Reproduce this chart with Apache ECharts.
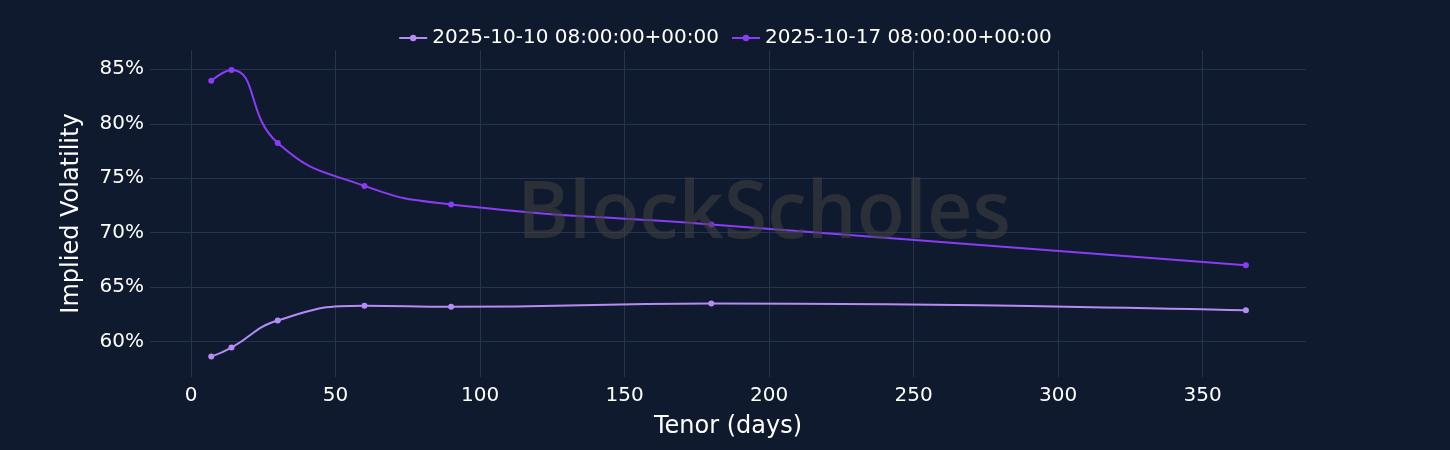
<!DOCTYPE html>
<html>
<head>
<meta charset="utf-8">
<script src="https://cdn.jsdelivr.net/npm/echarts@6/dist/echarts.min.js"></script>
<style>
html,body{margin:0;padding:0;background:#0f1a2e;}
#chart{width:1450px;height:450px;}
</style>
</head>
<body>
<div id="chart"></div>
<script>
const tenors = [7, 14, 30, 60, 90, 180, 365];
const seriesNames = ['2025-10-10 08:00:00+00:00', '2025-10-17 08:00:00+00:00'];
const vol1010 = [58.63, 59.46, 61.94, 63.3, 63.2, 63.5, 62.89];
const vol1017 = [83.95, 84.94, 78.24, 74.3, 72.6, 70.76, 67.02];
const xTitle = 'Tenor (days)';
const yTitle = 'Implied Volatility';
const watermark = 'BlockScholes';

const FONT = '"DejaVu Sans", Verdana, sans-serif';
const gridColor = '#243350';
const chart = echarts.init(document.getElementById('chart'), null, {renderer: 'canvas'});

function pairs(vals) { return tenors.map((t, i) => [t, vals[i]]); }

const xSplit = Array(10).fill(gridColor); xSplit[0] = 'rgba(0,0,0,0)'; xSplit[9] = 'rgba(0,0,0,0)';
const ySplit = Array(8).fill(gridColor); ySplit[0] = 'rgba(0,0,0,0)'; ySplit[7] = 'rgba(0,0,0,0)';

chart.setOption({
  backgroundColor: '#0f1a2e',
  animation: false,
  textStyle: {fontFamily: FONT},
  legend: {
    top: 23,
    left: 'center',
    itemWidth: 28,
    itemHeight: 8,
    itemGap: 12,
    textStyle: {color: '#ffffff', fontSize: 20, fontFamily: FONT},
    data: seriesNames
  },
  grid: {left: 150, right: 144, top: 50, bottom: 73, containLabel: false},
  xAxis: {
    type: 'value',
    min: -14.2,
    max: 385.8,
    splitNumber: 8,
    name: xTitle,
    nameLocation: 'middle',
    nameGap: 38,
    nameTextStyle: {color: '#ffffff', fontSize: 24, fontFamily: FONT},
    axisLine: {show: false},
    axisTick: {show: false},
    axisLabel: {
      color: '#ffffff', fontSize: 20, margin: 9, fontFamily: FONT,
      formatter: v => (Math.abs(v % 50) < 1e-6 ? String(v) : '')
    },
    splitLine: {show: true, lineStyle: {color: xSplit, width: 1}}
  },
  yAxis: {
    type: 'value',
    min: 56.76,
    max: 86.77,
    splitNumber: 6,
    name: yTitle,
    nameLocation: 'middle',
    nameGap: 66,
    nameTextStyle: {color: '#ffffff', fontSize: 24, fontFamily: FONT},
    axisLine: {show: false},
    axisTick: {show: false},
    axisLabel: {
      color: '#ffffff', fontSize: 20, margin: 6, fontFamily: FONT,
      formatter: v => (Math.abs(v % 5) < 1e-6 ? v + '%' : '')
    },
    splitLine: {show: true, lineStyle: {color: ySplit, width: 1}}
  },
  graphic: [{
    type: 'text',
    left: 517,
    top: 176,
    z: 100,
    silent: true,
    style: {
      text: watermark,
      fontSize: 79,
      fontWeight: 600,
      fontFamily: '"Open Sans", sans-serif',
      fill: 'rgba(66,66,66,0.55)'
    }
  }],
  series: [
    {
      name: seriesNames[0],
      type: 'line',
      data: pairs(vol1010),
      smooth: 0.5,
      symbol: 'circle',
      symbolSize: 6,
      lineStyle: {width: 2, color: '#b48cf4'},
      itemStyle: {color: '#b48cf4'}
    },
    {
      name: seriesNames[1],
      type: 'line',
      data: pairs(vol1017),
      smooth: 0.5,
      symbol: 'circle',
      symbolSize: 6,
      lineStyle: {width: 2, color: '#8b3cf7'},
      itemStyle: {color: '#8b3cf7'}
    }
  ]
});
</script>
</body>
</html>
